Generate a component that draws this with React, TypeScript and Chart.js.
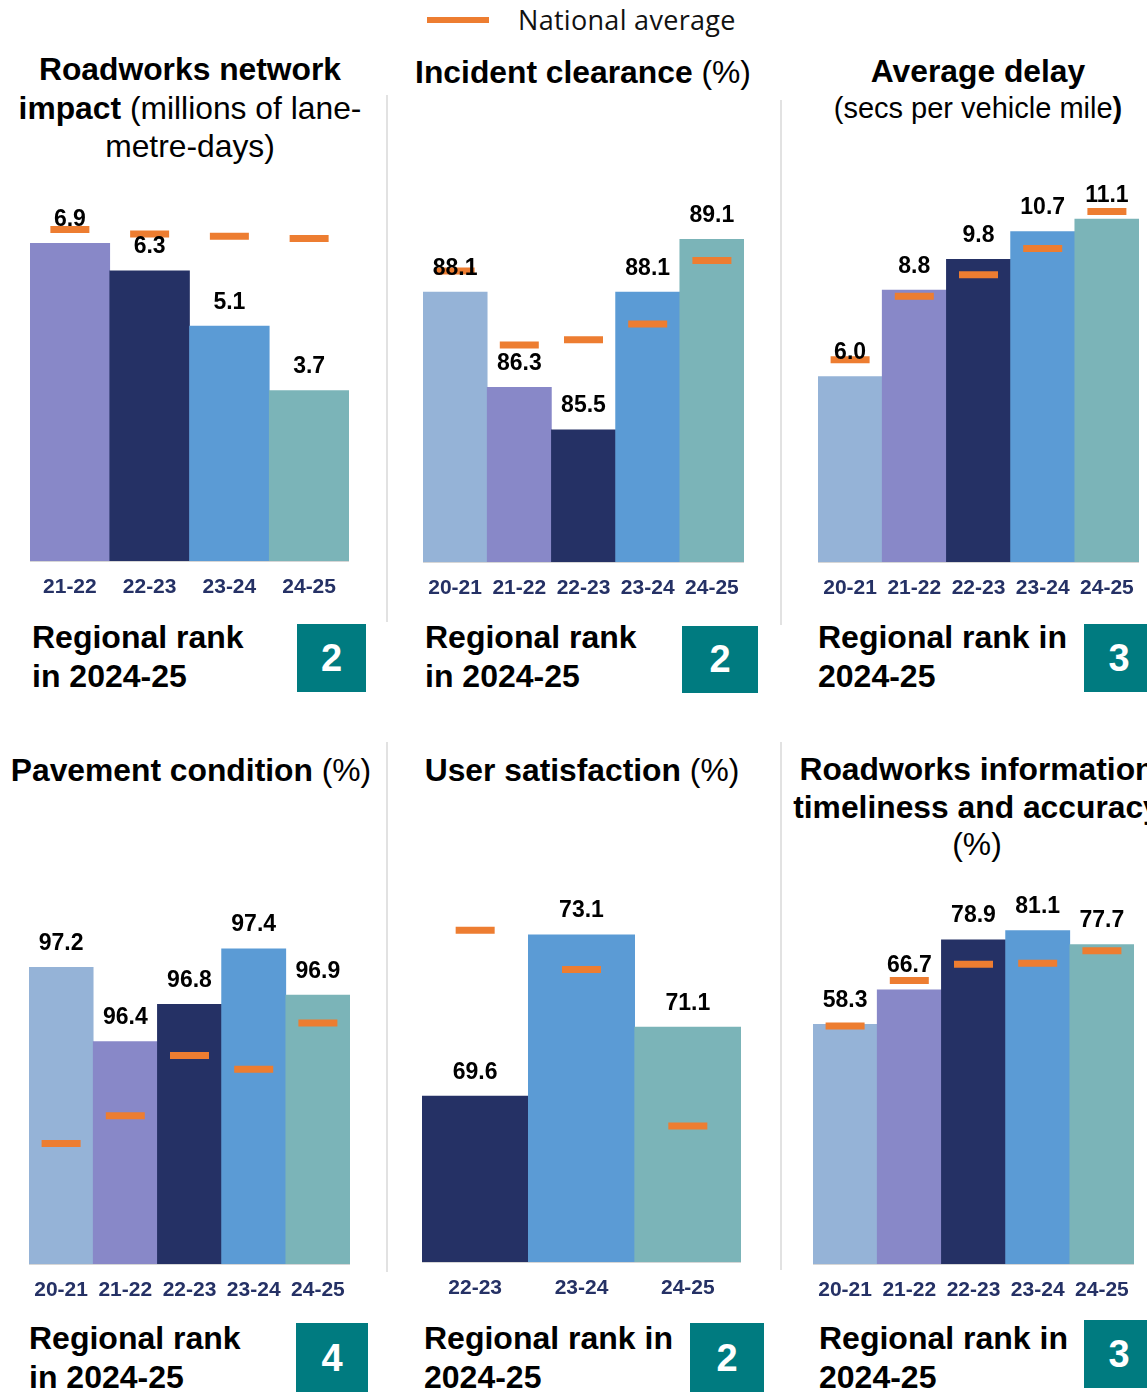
import React, { useEffect, useRef } from "react";
import { Chart, registerables } from "chart.js";

Chart.register(...registerables);

const FONT = "'Liberation Sans', Arial, Helvetica, sans-serif";
const ORANGE = "#ED7D31";
const NAVY = "#253165";
const TEAL_BOX = "#007B80";
const RULE = "#E2E2E2";

// colour of each financial year's bar
const YEAR_COLOURS: Record<string, string> = {
  "20-21": "#95B3D7",
  "21-22": "#8888C8",
  "22-23": "#253165",
  "23-24": "#5B9BD5",
  "24-25": "#7BB4B8",
};

// Roadworks network impact (millions of lane-metre-days)
const roadworksYears = ["21-22", "22-23", "23-24", "24-25"];
const roadworksImpact = [6.9, 6.3, 5.1, 3.7];
const roadworksImpactNational = [7.2, 7.1, 7.05, 7.0];

// Incident clearance (%)
const clearanceYears = ["20-21", "21-22", "22-23", "23-24", "24-25"];
const clearance = [88.1, 86.3, 85.5, 88.1, 89.1];
const clearanceNational = [88.5, 87.1, 87.2, 87.5, 88.7];

// Average delay (secs per vehicle mile)
const delayYears = ["20-21", "21-22", "22-23", "23-24", "24-25"];
const delay = [6.0, 8.8, 9.8, 10.7, 11.1];
const delayNational = [6.55, 8.6, 9.3, 10.15, 11.35];

// Pavement condition (%)
const pavementYears = ["20-21", "21-22", "22-23", "23-24", "24-25"];
const pavement = [97.2, 96.4, 96.8, 97.4, 96.9];
const pavementNational = [95.3, 95.6, 96.25, 96.1, 96.6];

// User satisfaction (%)
const satisfactionYears = ["22-23", "23-24", "24-25"];
const satisfaction = [69.6, 73.1, 71.1];
const satisfactionNational = [73.2, 72.35, 68.95];

// Roadworks information timeliness and accuracy (%)
const infoYears = ["20-21", "21-22", "22-23", "23-24", "24-25"];
const info = [58.3, 66.7, 78.9, 81.1, 77.7];
const infoNational = [57.9, 69.0, 72.9, 73.2, 76.2];

// Regional rank in 2024-25 for each measure
const ranks = [2, 2, 3, 4, 2, 3];

const AXIS_H = 40;

type PanelSpec = {
  years: string[];
  values: number[];
  national: number[];
  left: number;
  width: number;
  top: number;
  baseline: number;
  min: number;
  max: number;
};

const valueLabels = {
  id: "valueLabels",
  afterDatasetsDraw(chart: any) {
    const ctx = chart.ctx as CanvasRenderingContext2D;
    const meta = chart.getDatasetMeta(1);
    const data = chart.data.datasets[1].data as number[];
    ctx.save();
    ctx.font = `bold 23px ${FONT}`;
    ctx.fillStyle = "#000";
    ctx.textAlign = "center";
    ctx.textBaseline = "alphabetic";
    meta.data.forEach((el: any, i: number) => {
      ctx.fillText(Number(data[i]).toFixed(1), el.x, el.y - 17.5);
    });
    ctx.restore();
  },
};

function BarPanel({ p }: { p: PanelSpec }) {
  const ref = useRef<HTMLCanvasElement>(null);
  useEffect(() => {
    const canvas = ref.current;
    if (!canvas) return;
    const chart = new Chart(canvas, {
      type: "bar",
      data: {
        labels: p.years,
        datasets: [
          {
            type: "line",
            label: "National average",
            data: p.national,
            showLine: false,
            pointStyle: "line",
            pointRadius: 19.5,
            pointHoverRadius: 19.5,
            pointBorderWidth: 7,
            pointHoverBorderWidth: 7,
            pointBorderColor: ORANGE,
            pointBackgroundColor: ORANGE,
            borderColor: ORANGE,
            order: 0,
          } as any,
          {
            type: "bar",
            label: "Region",
            data: p.values,
            backgroundColor: p.years.map((y) => YEAR_COLOURS[y]),
            barPercentage: 1,
            categoryPercentage: 1,
            order: 1,
          },
        ],
      },
      options: {
        responsive: false,
        animation: false,
        devicePixelRatio: 1,
        events: [],
        layout: { padding: 0, autoPadding: false },
        plugins: { legend: { display: false }, tooltip: { enabled: false } },
        scales: {
          x: {
            grid: { display: false, drawTicks: false },
            border: { display: true, color: "#D6D6D6", width: 2 },
            ticks: {
              color: NAVY,
              font: { family: FONT, size: 21, weight: "bold" },
              padding: 14,
              maxRotation: 0,
              autoSkip: false,
            },
            afterFit: (s: any) => {
              s.height = AXIS_H;
              s.paddingLeft = 0;
              s.paddingRight = 0;
            },
          },
          y: { display: false, min: p.min, max: p.max },
        },
      } as any,
      plugins: [valueLabels],
    });
    return () => chart.destroy();
  }, [p]);
  return (
    <canvas
      ref={ref}
      width={p.width}
      height={p.baseline - p.top + AXIS_H}
      style={{ position: "absolute", left: p.left, top: p.top }}
    />
  );
}

const panels: PanelSpec[] = [
  { years: roadworksYears, values: roadworksImpact, national: roadworksImpactNational, left: 30, width: 319, top: 170, baseline: 561, min: 0, max: 8.49 },
  { years: clearanceYears, values: clearance, national: clearanceNational, left: 423, width: 321, top: 170, baseline: 562, min: 83, max: 90.41 },
  { years: delayYears, values: delay, national: delayNational, left: 818, width: 321, top: 170, baseline: 562, min: 0, max: 12.69 },
  { years: pavementYears, values: pavement, national: pavementNational, left: 29, width: 321, top: 870, baseline: 1264, min: 94, max: 98.25 },
  { years: satisfactionYears, values: satisfaction, national: satisfactionNational, left: 422, width: 319, top: 870, baseline: 1262, min: 66, max: 74.51 },
  { years: infoYears, values: info, national: infoNational, left: 813, width: 321, top: 870, baseline: 1264, min: 0, max: 95.86 },
];

const titleBase: React.CSSProperties = {
  position: "absolute",
  width: 600,
  textAlign: "center",
  fontFamily: FONT,
  fontSize: 31.8,
  color: "#000",
  whiteSpace: "nowrap",
};

const rankText: React.CSSProperties = {
  position: "absolute",
  fontFamily: FONT,
  fontWeight: "bold",
  fontSize: 32,
  lineHeight: "39px",
  color: "#000",
  whiteSpace: "nowrap",
};

function RankBox({ left, top, w, h, n }: { left: number; top: number; w: number; h: number; n: number }) {
  return (
    <div
      style={{
        position: "absolute",
        left,
        top,
        width: w,
        height: h,
        background: TEAL_BOX,
        color: "#fff",
        fontFamily: FONT,
        fontWeight: "bold",
        fontSize: 38,
        display: "flex",
        alignItems: "center",
        justifyContent: "center",
      }}
    >
      {n}
    </div>
  );
}

function Rule({ x, y1, y2 }: { x: number; y1: number; y2: number }) {
  return <div style={{ position: "absolute", left: x - 1, top: y1, width: 2, height: y2 - y1, background: RULE }} />;
}

export default function App() {
  return (
    <div style={{ position: "absolute", left: 0, top: 0, width: 1147, height: 1392, overflow: "hidden", background: "#fff" }}>
      {/* legend */}
      <div style={{ position: "absolute", left: 427, top: 17, width: 62, height: 6, background: ORANGE }} />
      <div style={{ position: "absolute", left: 518, top: 3, fontFamily: "'Open Sans', Lato, sans-serif", fontSize: 27, letterSpacing: 0.3, lineHeight: "34px", color: "#111", whiteSpace: "nowrap" }}>
        National average
      </div>

      <Rule x={387} y1={95} y2={622} />
      <Rule x={781} y1={100} y2={625} />
      <Rule x={387} y1={742} y2={1272} />
      <Rule x={781} y1={742} y2={1270} />

      {/* titles */}
      <div style={{ ...titleBase, left: 190 - 300, top: 50, lineHeight: "38.5px" }}>
        <b>Roadworks network</b>
        <br />
        <b>impact</b> (millions of lane-
        <br />
        metre-days)
      </div>
      <div style={{ ...titleBase, left: 583 - 300, top: 53, lineHeight: "38px" }}>
        <b>Incident clearance</b> (%)
      </div>
      <div style={{ ...titleBase, left: 978 - 300, top: 53, lineHeight: "36px" }}>
        <b>Average delay</b>
        <br />
        <span style={{ fontSize: 29 }}>
          (secs per vehicle mile<b>)</b>
        </span>
      </div>
      <div style={{ ...titleBase, left: 191 - 300, top: 751, lineHeight: "38px" }}>
        <b>Pavement condition</b> (%)
      </div>
      <div style={{ ...titleBase, left: 582 - 300, top: 751, lineHeight: "38px" }}>
        <b>User satisfaction</b> (%)
      </div>
      <div style={{ ...titleBase, left: 977 - 300, top: 751, lineHeight: "37.5px" }}>
        <b>Roadworks information</b>
        <br />
        <b>timeliness and accuracy</b>
        <br />
        (%)
      </div>

      {panels.map((p, i) => (
        <BarPanel key={i} p={p} />
      ))}

      {/* regional ranks */}
      <div style={{ ...rankText, left: 32, top: 618 }}>
        Regional rank
        <br />
        in 2024-25
      </div>
      <RankBox left={297} top={624} w={69} h={68} n={ranks[0]} />
      <div style={{ ...rankText, left: 425, top: 618 }}>
        Regional rank
        <br />
        in 2024-25
      </div>
      <RankBox left={682} top={626} w={76} h={67} n={ranks[1]} />
      <div style={{ ...rankText, left: 818, top: 618 }}>
        Regional rank in
        <br />
        2024-25
      </div>
      <RankBox left={1084} top={624} w={70} h={68} n={ranks[2]} />

      <div style={{ ...rankText, left: 29, top: 1319 }}>
        Regional rank
        <br />
        in 2024-25
      </div>
      <RankBox left={296} top={1323} w={72} h={70} n={ranks[3]} />
      <div style={{ ...rankText, left: 424, top: 1319 }}>
        Regional rank in
        <br />
        2024-25
      </div>
      <RankBox left={690} top={1323} w={74} h={70} n={ranks[4]} />
      <div style={{ ...rankText, left: 819, top: 1319 }}>
        Regional rank in
        <br />
        2024-25
      </div>
      <RankBox left={1084} top={1320} w={70} h={68} n={ranks[5]} />
    </div>
  );
}
